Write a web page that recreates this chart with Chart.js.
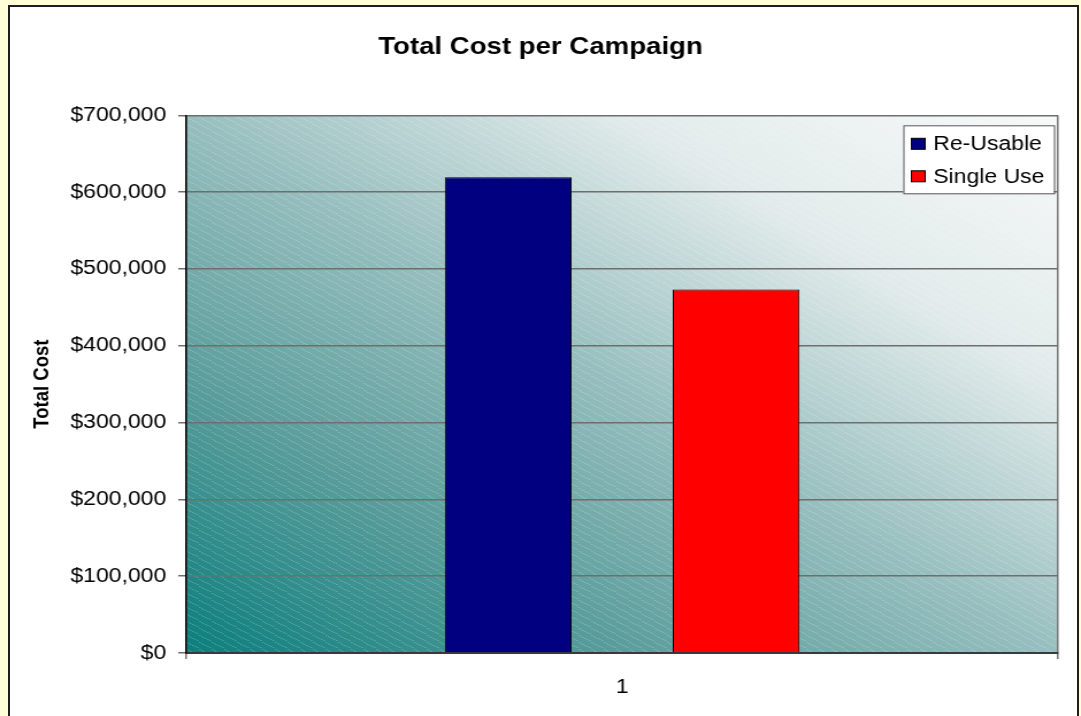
<!DOCTYPE html>
<html>
<head>
<meta charset="utf-8">
<script src="https://cdn.jsdelivr.net/npm/chart.js@4.4.0/dist/chart.umd.min.js"></script>
<style>
  html, body { margin: 0; padding: 0; background: #ffffd8; overflow: hidden; }
  #frame { position: absolute; left: 8px; top: 5px; width: 1067px; height: 760px; background: #fff; border: 2px solid #1e1e1e; }
  #chart { position: absolute; left: 0; top: 0; }
</style>
</head>
<body>
<div id="frame"></div>
<canvas id="chart" width="940" height="716" style="width:1081px;height:716px"></canvas>
<script>
var categories = ['1'];
var seriesNames = ['Re-Usable', 'Single Use'];
var reusableCost = [619400];
var singleUseCost = [473300];
var yTickMin = 0;
var yTickMax = 700000;
var yTickStep = 100000;

Chart.defaults.font.family = '"Liberation Sans", Arial, sans-serif';
Chart.defaults.color = '#000';

// faint diagonal hatching laid over the plot gradient
var hatch = (function () {
    var c = document.createElement('canvas');
    c.width = 11;
    c.height = 7;
    var g = c.getContext('2d');
    g.fillStyle = 'rgba(255,255,255,0.22)';
    for (var i = 0; i < 11; i += 2) {
        g.fillRect(i, Math.floor(i * 7 / 11), 1.5, 1);
    }
    return c;
})();

var plotBackground = {
    id: 'plotBackground',
    beforeDraw: function (chart) {
        var a = chart.chartArea;
        var ctx = chart.ctx;
        ctx.save();
        ctx.translate(a.left, a.top);
        ctx.scale(a.right - a.left, a.bottom - a.top);
        var grad = ctx.createLinearGradient(0, 1, 1, 0);
        grad.addColorStop(0, '#0b7f7d');
        grad.addColorStop(0.25, '#599d9b');
        grad.addColorStop(0.5, '#98bfbf');
        grad.addColorStop(0.75, '#e2ebeb');
        grad.addColorStop(1, '#f8f9f9');
        ctx.fillStyle = grad;
        ctx.fillRect(0, 0, 1, 1);
        ctx.restore();

        ctx.save();
        ctx.fillStyle = ctx.createPattern(hatch, 'repeat');
        ctx.fillRect(a.left, a.top, a.right - a.left, a.bottom - a.top);
        ctx.restore();
    }
};

// legend box sitting in the top right corner of the plot
var boxLegend = {
    id: 'boxLegend',
    afterDraw: function (chart) {
        var a = chart.chartArea;
        var ctx = chart.ctx;
        var w = 131, h = 68;
        var x = a.right - 3.5 - w;
        var y = a.top + 10;
        ctx.save();
        ctx.fillStyle = '#fff';
        ctx.strokeStyle = '#555';
        ctx.lineWidth = 1;
        ctx.fillRect(x, y, w, h);
        ctx.strokeRect(x + 0.5, y + 0.5, w, h);
        ctx.font = '20px "Liberation Sans", Arial, sans-serif';
        ctx.textBaseline = 'middle';
        chart.data.datasets.forEach(function (ds, i) {
            var cy = y + 18.5 + i * 32.5;
            ctx.fillStyle = ds.backgroundColor;
            ctx.fillRect(x + 7, cy - 5.5, 12, 11);
            ctx.strokeStyle = '#000';
            ctx.strokeRect(x + 7, cy - 5.5, 12, 11);
            ctx.fillStyle = '#000';
            ctx.fillText(ds.label, x + 26, cy + 1);
        });
        ctx.restore();
    }
};

var ctx = document.getElementById('chart').getContext('2d');
var chart = new Chart(ctx, {
    type: 'bar',
    data: {
        labels: categories,
        datasets: [{
            label: seriesNames[0],
            data: reusableCost,
            backgroundColor: '#000080',
            borderColor: '#000',
            borderWidth: 1
        }, {
            label: seriesNames[1],
            data: singleUseCost,
            backgroundColor: '#ff0000',
            borderColor: '#000',
            borderWidth: 1
        }]
    },
    options: {
        responsive: false,
        animation: false,
        devicePixelRatio: 1,
        categoryPercentage: 0.523,
        barPercentage: 0.556,
        layout: {
            // equal side padding keeps the title centred on the canvas
            padding: { left: 20, right: 20, top: 0, bottom: 0 }
        },
        plugins: {
            legend: { display: false },
            tooltip: { enabled: false },
            title: {
                display: true,
                text: 'Total Cost per Campaign',
                font: { size: 24, weight: 'bold' },
                color: '#000',
                padding: { top: 33, bottom: 53.5 }
            }
        },
        scales: {
            x: {
                grid: { color: '#777', lineWidth: 1.5, tickLength: 6 },
                border: { color: '#3a3a3a', width: 2 },
                ticks: { font: { size: 20 }, color: '#000', padding: 16 },
                afterFit: function (s) { s.height = 63; }
            },
            y: {
                min: yTickMin,
                max: yTickMax,
                ticks: {
                    stepSize: yTickStep,
                    font: { size: 20 },
                    color: '#000',
                    padding: 10.4,
                    callback: function (v) { return '$' + v.toLocaleString('en-US'); }
                },
                grid: { color: '#6e6e6e', lineWidth: 1.5, tickLength: 7 },
                border: { color: '#000', width: 1.5 },
                title: {
                    display: true,
                    text: 'Total Cost',
                    font: { size: 18.5, weight: 'bold' },
                    color: '#000',
                    padding: { top: 6, bottom: 0 }
                },
                afterFit: function (s) { s.width = 142; }
            }
        }
    },
    plugins: [plotBackground, boxLegend]
});
</script>
</body>
</html>
